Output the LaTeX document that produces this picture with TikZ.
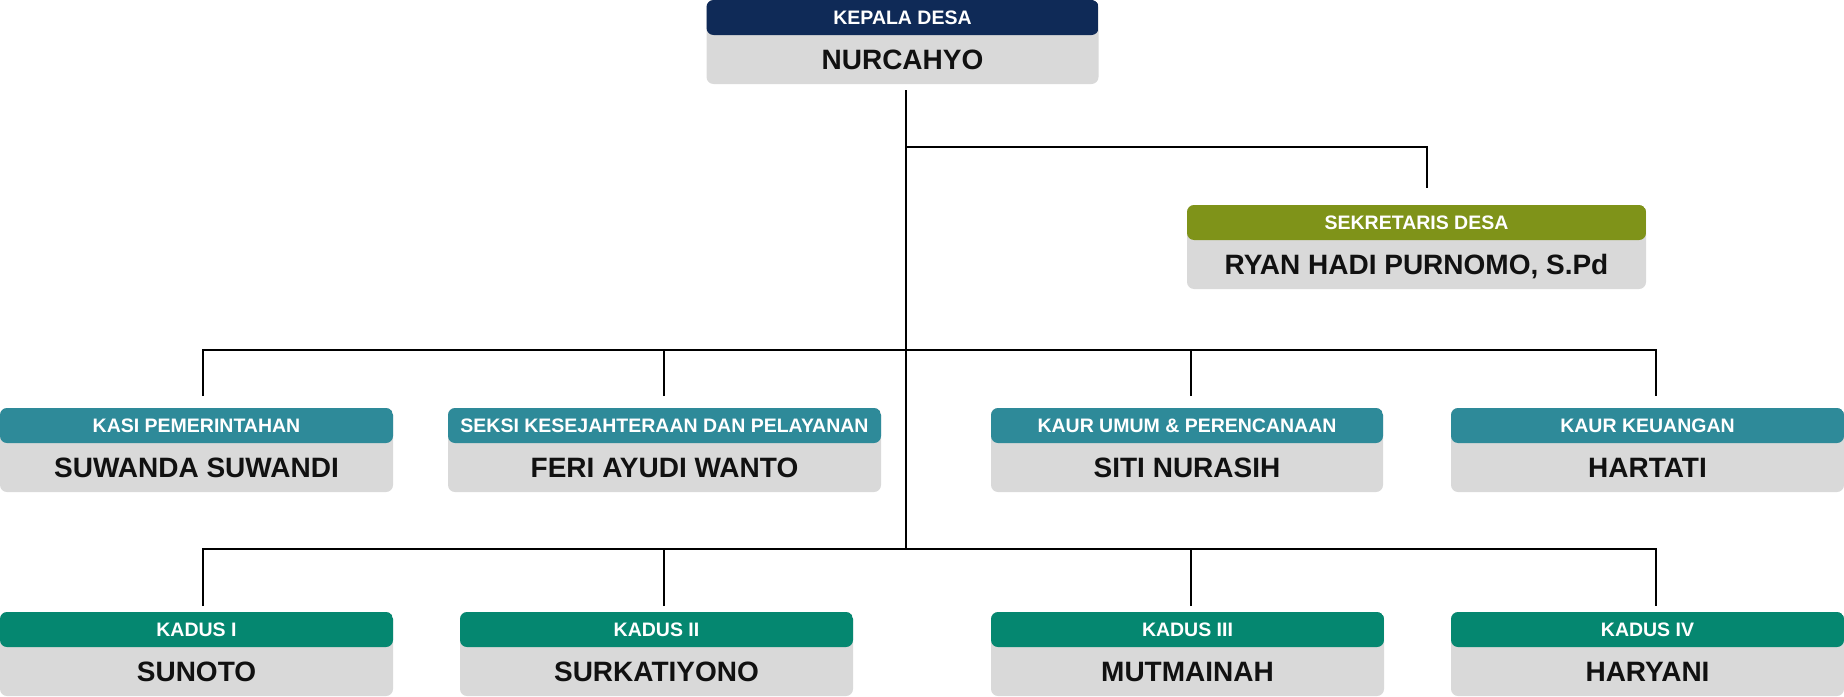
\documentclass[tikz,border=0pt]{standalone}
\usepackage{fontspec}
\setmainfont{Liberation Sans}
\definecolor{navyhead}{HTML}{0F2A57}
\definecolor{olivehead}{HTML}{7F9319}
\definecolor{tealhead}{HTML}{2E8A99}
\definecolor{greenhead}{HTML}{058770}
\definecolor{bodygray}{HTML}{D9D9D9}
\definecolor{nameink}{HTML}{111111}
\tikzset{
  orgbox/.style={rectangle, rounded corners=7pt, fill=bodygray, minimum height=84pt, outer sep=0pt, inner sep=0pt},
  band/.style={path picture={\fill[#1] (path picture bounding box.north west) rectangle ([yshift=-35pt]path picture bounding box.north east);}},
  titletext/.style={text=white, inner sep=0pt, font=\fontsize{19.5}{22}\selectfont\bfseries},
  nametext/.style={text=nameink, inner sep=0pt, font=\fontsize{28}{32}\selectfont\bfseries},
  conn/.style={draw=black, line width=2pt}
}
\newcommand\OrgBox[7]{%
  \node[orgbox, minimum width=#4pt, band=#5] (#1) at (#2,#3) {};
  \node[titletext, anchor=base] (#1-t) at ([yshift=-24.7pt]#1.north) {#6};
  \node[nametext, anchor=base] (#1-n) at ([yshift=14.5pt]#1.south) {#7};
}
\begin{document}
\begin{tikzpicture}[x=1pt,y=-1pt]
\useasboundingbox (0,0) rectangle (1844,696);
% boxes
\OrgBox{top}{902.5}{42}{392}{navyhead}{KEPALA DESA}{NURCAHYO}
\OrgBox{sek}{1416.5}{247}{459}{olivehead}{SEKRETARIS DESA}{RYAN HADI PURNOMO, S.Pd}
\OrgBox{b1}{196.5}{450}{393}{tealhead}{KASI PEMERINTAHAN}{SUWANDA SUWANDI}
\OrgBox{b2}{664.5}{450}{433}{tealhead}{SEKSI KESEJAHTERAAN DAN PELAYANAN}{FERI AYUDI WANTO}
\OrgBox{b3}{1187}{450}{392}{tealhead}{KAUR UMUM \& PERENCANAAN}{SITI NURASIH}
\OrgBox{b4}{1647.5}{450}{393}{tealhead}{KAUR KEUANGAN}{HARTATI}
\OrgBox{c1}{196.5}{654}{393}{greenhead}{KADUS I}{SUNOTO}
\OrgBox{c2}{656.5}{654}{393}{greenhead}{KADUS II}{SURKATIYONO}
\OrgBox{c3}{1187.5}{654}{393}{greenhead}{KADUS III}{MUTMAINAH}
\OrgBox{c4}{1647.5}{654}{393}{greenhead}{KADUS IV}{HARYANI}
% junctions on the trunk
\coordinate (j1) at (906,147);
\coordinate (j2) at (906,350);
\coordinate (j3) at (906,549);
% trunk
\draw[conn] ([xshift=3.5pt,yshift=-6pt]top.south) -- (j3);
% to sekretaris
\draw[conn] (j1) -| ([xshift=10.5pt,yshift=17pt]sek.north);
% row 2
\draw[conn] ([xshift=6.5pt,yshift=12pt]b1.north) |- (j2) -| ([xshift=8.5pt,yshift=12pt]b4.north);
\draw[conn] ([xshift=-0.5pt,yshift=12pt]b2.north) -- ([xshift=-0.5pt]b2.north |- j2);
\draw[conn] ([xshift=3.5pt,yshift=12pt]b3.north) -- ([xshift=3.5pt]b3.north |- j2);
% row 3
\draw[conn] ([xshift=6.5pt,yshift=6pt]c1.north) |- (j3) -| ([xshift=8.5pt,yshift=6pt]c4.north);
\draw[conn] ([xshift=7.5pt,yshift=6pt]c2.north) -- ([xshift=7.5pt]c2.north |- j3);
\draw[conn] ([xshift=3.5pt,yshift=6pt]c3.north) -- ([xshift=3.5pt]c3.north |- j3);
\end{tikzpicture}
\end{document}
